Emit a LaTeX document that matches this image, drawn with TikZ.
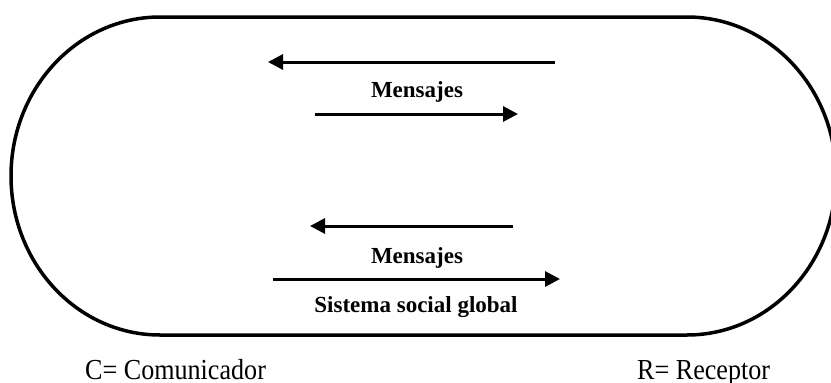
\documentclass[tikz,border=0pt]{standalone}
\usepackage{fontspec}
\setmainfont{Liberation Serif}
\usetikzlibrary{arrows.meta}
\tikzset{
  msgarrow/.style={line width=3pt,-{Triangle[length=15pt,width=15pt]}},
  boldlabel/.style={font=\fontsize{23}{27}\selectfont\bfseries,inner sep=0pt,anchor=base},
  legend/.style={font=\fontsize{29}{33}\selectfont,inner sep=0pt,anchor=base west},
  loop/.style={line width=3.5pt}
}
\begin{document}
\begin{tikzpicture}[x=1pt,y=-1pt]
\useasboundingbox (0,0) rectangle (831,383);
\clip (0,0) rectangle (831,383);
% stadium outline
\draw[loop] (160,17) -- (687,17) arc[start angle=-90,end angle=90,x radius=149,y radius=159]
  -- (160,335) arc[start angle=90,end angle=270,x radius=149,y radius=159] -- cycle;
% upper group
\coordinate (a1s) at (555,62);
\coordinate (a1e) at (268,62);
\draw[msgarrow] (a1s) -- (a1e);
\node[boldlabel] (m1) at (417,97) {Mensajes};
\coordinate (a2s) at (315,114);
\coordinate (a2e) at (518,114);
\draw[msgarrow] (a2s) -- (a2e);
% lower group
\coordinate (a3s) at (513,226);
\coordinate (a3e) at (310,226);
\draw[msgarrow] (a3s) -- (a3e);
\node[boldlabel] (m2) at (417,263) {Mensajes};
\coordinate (a4s) at (273,279);
\coordinate (a4e) at (560,279);
\draw[msgarrow] (a4s) -- (a4e);
\node[boldlabel] (ssg) at (416,312) {Sistema social global};
% legend
\node[legend] (c) at (85,379) {\scalebox{0.9}[1]{C= Comunicador}};
\node[legend] (r) at (637,379) {\scalebox{0.9}[1]{R= Receptor}};
\end{tikzpicture}
\end{document}
